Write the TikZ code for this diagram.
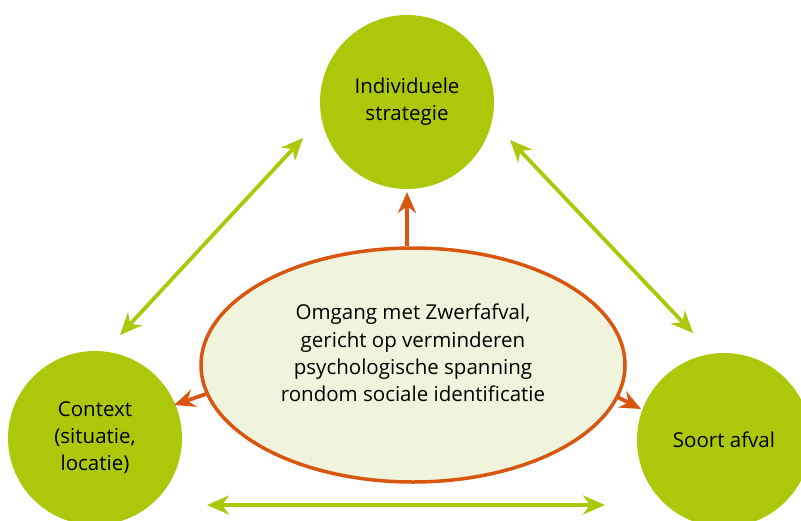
\documentclass[tikz,border=0pt]{standalone}
\usepackage{fontspec}
\setmainfont{Open Sans}
\usetikzlibrary{arrows.meta,shapes.geometric}
\definecolor{leaf}{RGB}{173,200,10}
\definecolor{rust}{RGB}{217,86,16}
\definecolor{cream}{RGB}{240,244,220}
\tikzset{
  factor/.style={circle,fill=leaf,minimum size=174pt,inner sep=0pt,align=center,font=\fontsize{20.5}{27}\selectfont},
  core/.style={ellipse,draw=rust,line width=3.5pt,fill=cream,minimum width=424pt,minimum height=234pt,inner sep=0pt},
  coretext/.style={align=center,inner sep=0pt,font=\fontsize{20.5}{27.3}\selectfont},
  link/.style={leaf,line width=3.8pt,{Stealth[length=22pt,width=19pt,inset=7pt]}-{Stealth[length=22pt,width=19pt,inset=7pt]}},
  push/.style={rust,line width=3.8pt,-{Stealth[length=21pt,width=18pt,inset=7pt]}}
}
\begin{document}
\begin{tikzpicture}[x=1pt,y=-1pt]
    \useasboundingbox (0,0) rectangle (801,520);
    \clip (0,0) rectangle (801,520);
    \fill[white] (0,0) rectangle (801,520);
    \node[factor] (indiv) at (407,102) {Individuele\\strategie};
    \node[factor] (context) at (95,438) {Context\\(situatie,\\locatie)};
    \node[factor] (soort) at (724,440) {Soort afval};
    \node[core] (omgang) at (413,365) {};
    \node[coretext] (omgangtext) at (413,353) {Omgang met Zwerfafval,\\gericht op verminderen\\psychologische spanning\\rondom sociale identificatie};
    \coordinate (cl1) at (120,335);
    \coordinate (cl2) at (303,138);
    \coordinate (cr1) at (510,140);
    \coordinate (cr2) at (693,333);
    \coordinate (cb1) at (207,505);
    \coordinate (cb2) at (605,505);
    \draw[link] (cl1) -- (cl2);
    \draw[link] (cr1) -- (cr2);
    \draw[link] (cb1) -- (cb2);
    \coordinate (pt) at (407,192);
    \coordinate (pl) at (174,405);
    \coordinate (pr) at (641,409);
    \draw[push] (omgang.north -| pt) -- (pt);
    \draw[push] (omgang.188) -- (pl);
    \draw[push] (omgang.351) -- (pr);
\end{tikzpicture}
\end{document}
